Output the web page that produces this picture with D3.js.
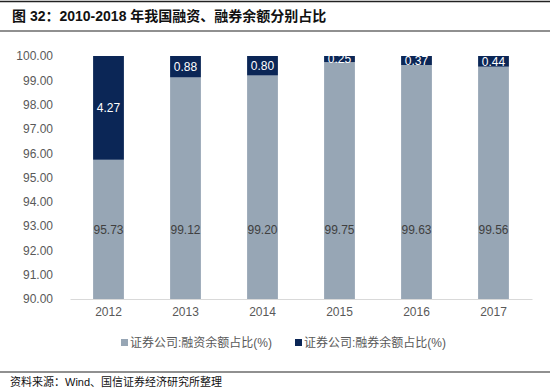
<!DOCTYPE html>
<html>
<head>
<meta charset="utf-8">
<script src="https://cdn.jsdelivr.net/npm/d3@7/dist/d3.min.js"></script>
<style>
  body { margin: 0; background: #fff; }
  svg { display: block; font-family: Arial, "Liberation Sans", "Noto Sans CJK SC", sans-serif; }
</style>
</head>
<body>
<svg id="chart"></svg>
<script>
// data
const years = ["2012", "2013", "2014", "2015", "2016", "2017"];
const rongzi = [95.73, 99.12, 99.20, 99.75, 99.63, 99.56];   // 融资余额占比
const rongquan = [4.27, 0.88, 0.80, 0.25, 0.37, 0.44];       // 融券余额占比
const yTicks = [90, 91, 92, 93, 94, 95, 96, 97, 98, 99, 100];
const seriesNames = ["证券公司:融资余额占比(%)", "证券公司:融券余额占比(%)"];

const width = 550, height = 388;
const margin = { top: 56, bottom: 89, left: 70, right: 18 };
const colors = ["#97a6b5", "#0b2656"];

const svg = d3.select("#chart")
  .attr("width", width)
  .attr("height", height);

// title block
svg.append("line").attr("x1", 0).attr("x2", width).attr("y1", 1.5).attr("y2", 1.5)
  .attr("stroke", "#222").attr("stroke-width", 1.5);
svg.append("line").attr("x1", 0).attr("x2", width).attr("y1", 31).attr("y2", 31)
  .attr("stroke", "#222").attr("stroke-width", 1.2);
svg.append("text")
  .attr("x", 12).attr("y", 21)
  .attr("font-size", "14px").attr("font-weight", "bold").attr("fill", "#111")
  .text("图 32：2010-2018 年我国融资、融券余额分别占比");

const x = d3.scaleBand()
  .domain(years)
  .range([margin.left, width - margin.right])
  .paddingInner(0.6)
  .paddingOuter(0.3);

const y = d3.scaleLinear()
  .domain([90, 100])
  .range([height - margin.bottom - 0, margin.top]);

const baseY = y(90);

// y axis labels
svg.append("g")
  .attr("transform", `translate(${margin.left - 14},0)`)
  .call(d3.axisLeft(y).tickValues(yTicks).tickFormat(d3.format(".2f")).tickSize(0))
  .call(g => g.select(".domain").remove())
  .call(g => g.selectAll("text").attr("font-size", "12px").attr("fill", "#595959")
    .attr("font-family", "Arial, 'Liberation Sans', sans-serif"));

// bars: lower series
svg.append("g").selectAll("rect")
  .data(years)
  .join("rect")
  .attr("x", d => x(d))
  .attr("width", x.bandwidth())
  .attr("y", (d, i) => y(rongzi[i]))
  .attr("height", (d, i) => baseY - y(rongzi[i]))
  .attr("fill", colors[0]);

// bars: upper series
svg.append("g").selectAll("rect")
  .data(years)
  .join("rect")
  .attr("x", d => x(d))
  .attr("width", x.bandwidth())
  .attr("y", (d, i) => y(rongzi[i] + rongquan[i]))
  .attr("height", (d, i) => y(rongzi[i]) - y(rongzi[i] + rongquan[i]))
  .attr("fill", colors[1]);

// x axis
svg.append("g")
  .attr("transform", `translate(0,${baseY})`)
  .call(d3.axisBottom(x).tickSize(0).tickPadding(8))
  .call(g => g.select(".domain").attr("stroke", "#d9d9d9"))
  .call(g => g.selectAll("text").attr("font-size", "12px").attr("fill", "#595959")
    .attr("font-family", "Arial, 'Liberation Sans', sans-serif"));

// labels of the lower series sit at a common height (as in the source chart)
const lowLabelAt = (90 + rongzi[0]) / 2;
svg.append("g").selectAll("text")
  .data(years)
  .join("text")
  .attr("x", d => x(d) + x.bandwidth() / 2)
  .attr("y", y(lowLabelAt))
  .attr("dy", "0.35em")
  .attr("text-anchor", "middle")
  .attr("font-size", "12px")
  .attr("fill", "#404040")
  .text((d, i) => rongzi[i].toFixed(2));

svg.append("g").selectAll("text")
  .data(years)
  .join("text")
  .attr("x", d => x(d) + x.bandwidth() / 2)
  .attr("y", (d, i) => y(rongzi[i] + rongquan[i] / 2))
  .attr("dy", "0.35em")
  .attr("text-anchor", "middle")
  .attr("font-size", "12px")
  .attr("fill", "#fff")
  .text((d, i) => rongquan[i].toFixed(2));

// legend
const legendX = [121, 295];
const legend = svg.append("g").selectAll("g")
  .data(seriesNames)
  .join("g")
  .attr("transform", (d, i) => `translate(${legendX[i]},343)`);
legend.append("rect")
  .attr("x", 0).attr("y", -4).attr("width", 7).attr("height", 7)
  .attr("fill", (d, i) => colors[i]);
legend.append("text")
  .attr("x", 9).attr("y", 0).attr("dy", "0.35em")
  .attr("font-size", "12px").attr("fill", "#595959")
  .text(d => d);

// source
svg.append("line").attr("x1", 0).attr("x2", width).attr("y1", 372).attr("y2", 372)
  .attr("stroke", "#222").attr("stroke-width", 1.2);
svg.append("text")
  .attr("x", 10).attr("y", 386)
  .attr("font-size", "11px").attr("fill", "#111")
  .text("资料来源：Wind、国信证券经济研究所整理");
</script>
</body>
</html>
